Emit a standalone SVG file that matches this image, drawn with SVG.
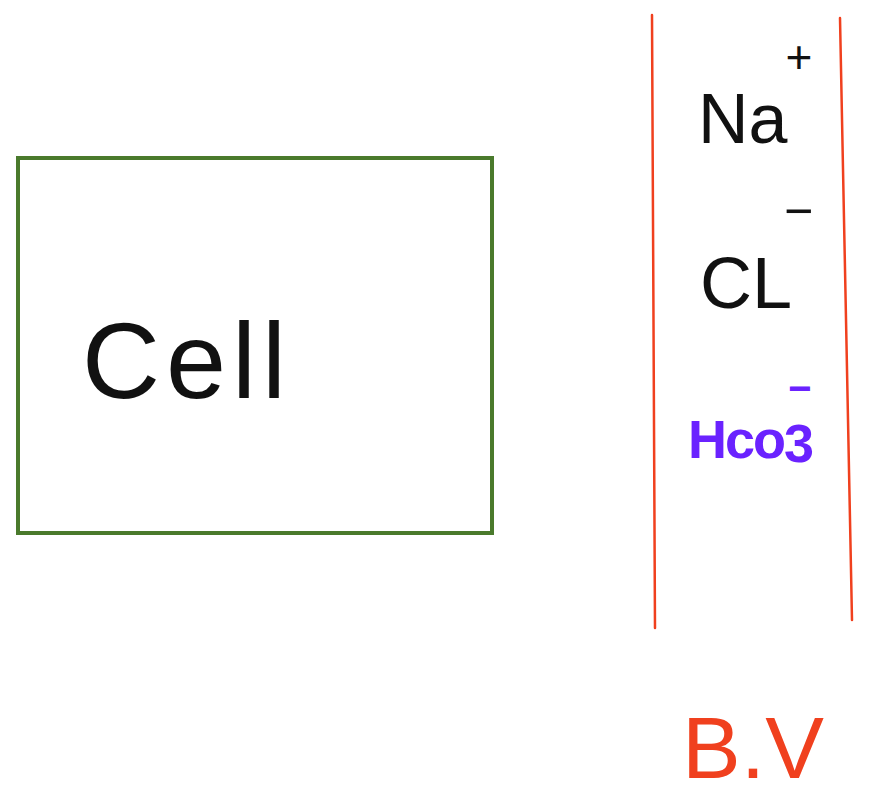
<svg xmlns="http://www.w3.org/2000/svg" width="872" height="800" viewBox="0 0 872 800">
<style>
.hand{font-family:"Liberation Sans",Arial,sans-serif;}
.blk{fill:#111;}
.red{stroke:#f0401e;stroke-width:2.5;fill:none;stroke-linecap:round;}
</style>
<rect width="872" height="800" fill="#ffffff"/>
<g id="cell">
<rect x="18" y="158" width="474" height="375" fill="none" stroke="#4a7a2c" stroke-width="4"/>
<text class="hand blk" x="82" y="398" font-size="108" letter-spacing="6">Cell</text>
</g>
<g id="blood-vessel">
<line class="red" x1="652" y1="15" x2="655" y2="628"/>
<line class="red" x1="840" y1="18" x2="852" y2="620"/>
<text class="hand blk" x="698" y="143" font-size="70">Na<tspan font-size="46" dx="-2" dy="-70">+</tspan></text>
<text class="hand blk" x="700" y="308" font-size="72">CL<tspan font-size="50" dx="-8" dy="-80">−</tspan></text>
<text class="hand" x="688" y="458" font-size="54" font-weight="bold" letter-spacing="-2" fill="#6a22ff">Hco<tspan dy="4">3</tspan></text>
<text class="hand" x="788" y="402" font-size="40" font-weight="bold" fill="#6a22ff">−</text>
<text class="hand" x="682" y="778" font-size="88" fill="#f0401e">B.V</text>
</g>
</svg>
